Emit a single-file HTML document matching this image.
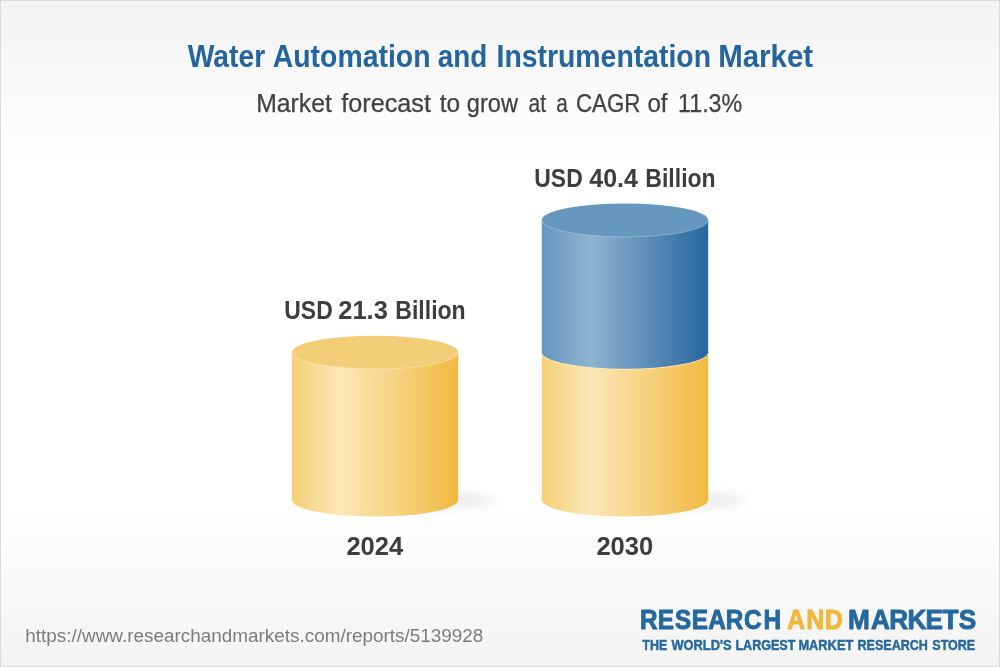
<!DOCTYPE html>
<html lang="en">
<head>
<meta charset="utf-8">
<title>Water Automation and Instrumentation Market</title>
<style>
  html, body { margin: 0; padding: 0; background: #ffffff; }
  body { width: 1000px; height: 667px; overflow: hidden; }
  svg { display: block; }
  text { font-family: "Liberation Sans", sans-serif; }
  .b { font-weight: bold; }
</style>
</head>
<body>
<svg width="1000" height="667" viewBox="0 0 1000 667">
  <defs>
    <linearGradient id="bg" x1="0" y1="0" x2="0" y2="1">
      <stop offset="0" stop-color="#f3f3f3"/>
      <stop offset="0.25" stop-color="#ffffff"/>
      <stop offset="0.752" stop-color="#ffffff"/>
      <stop offset="1" stop-color="#f3f3f3"/>
    </linearGradient>
    <linearGradient id="gy" x1="0" y1="0" x2="1" y2="0">
      <stop offset="0" stop-color="#f5cf74"/>
      <stop offset="0.295" stop-color="#fbe7b8"/>
      <stop offset="1" stop-color="#f1b941"/>
    </linearGradient>
    <linearGradient id="gb" x1="0" y1="0" x2="1" y2="0">
      <stop offset="0" stop-color="#6597c0"/>
      <stop offset="0.295" stop-color="#8fb3d1"/>
      <stop offset="1" stop-color="#26669e"/>
    </linearGradient>
    <filter id="blur" x="-30%" y="-80%" width="160%" height="260%">
      <feGaussianBlur stdDeviation="4.8"/>
    </filter>
  </defs>

  <!-- background + border -->
  <rect x="0" y="0" width="1000" height="667" fill="url(#bg)"/>
  <rect x="0.5" y="0.5" width="999" height="666" fill="none" stroke="#dadada" stroke-width="1"/>

  <!-- title -->
  <text id="title" class="b" y="66.5" font-size="30.5" fill="#24659f"><tspan x="187.70" textLength="77.50" lengthAdjust="spacingAndGlyphs">Water</tspan> <tspan x="272.75" textLength="157.75" lengthAdjust="spacingAndGlyphs">Automation</tspan> <tspan x="437.75" textLength="49.50" lengthAdjust="spacingAndGlyphs">and</tspan> <tspan x="496.50" textLength="214.50" lengthAdjust="spacingAndGlyphs">Instrumentation</tspan> <tspan x="718.20" textLength="95.00" lengthAdjust="spacingAndGlyphs">Market</tspan></text>
  <text id="sub" y="111.8" font-size="25.3" fill="#424242" stroke="#424242" stroke-width="0.25"><tspan x="256.20" textLength="75.70" lengthAdjust="spacingAndGlyphs">Market</tspan> <tspan x="341.34" textLength="89.60" lengthAdjust="spacingAndGlyphs">forecast</tspan> <tspan x="439.70" textLength="20.40" lengthAdjust="spacingAndGlyphs">to</tspan> <tspan x="466.80" textLength="51.14" lengthAdjust="spacingAndGlyphs">grow</tspan> <tspan x="528.60" textLength="17.48" lengthAdjust="spacingAndGlyphs">at</tspan> <tspan x="556.20" textLength="11.52" lengthAdjust="spacingAndGlyphs">a</tspan> <tspan x="575.90" textLength="64.58" lengthAdjust="spacingAndGlyphs">CAGR</tspan> <tspan x="647.50" textLength="20.06" lengthAdjust="spacingAndGlyphs">of</tspan> <tspan x="678.00" textLength="64.24" lengthAdjust="spacingAndGlyphs">11.3%</tspan></text>

  <!-- shadows -->
  <ellipse cx="412" cy="500" rx="83" ry="10.5" fill="#000000" opacity="0.068" filter="url(#blur)"/>
  <ellipse cx="662" cy="500" rx="83" ry="10.5" fill="#000000" opacity="0.068" filter="url(#blur)"/>

  <!-- left cylinder (2024) -->
  <path d="M291.8 352.2 L291.8 500 A83.2 16.5 0 0 0 458.2 500 L458.2 352.2 Z" fill="url(#gy)"/>
  <ellipse cx="375" cy="352.2" rx="83.2" ry="16.5" fill="#f4cd78"/>
  <path d="M292.4 352.9 A82.6 16.2 0 0 0 457.6 352.9" fill="none" stroke="#fbe6b4" stroke-width="0.7" opacity="0.85"/>

  <!-- right cylinder (2030) -->
  <path d="M541.8 352.2 L541.8 500 A83.2 16.5 0 0 0 708.2 500 L708.2 352.2 Z" fill="url(#gy)"/>
  <path d="M542.2 352.6 A82.8 16.5 0 0 0 707.8 352.6" fill="none" stroke="#fdeec9" stroke-width="1.2" opacity="0.8"/>
  <path d="M541.8 220 L541.8 352.2 A83.2 16.5 0 0 0 708.2 352.2 L708.2 220 Z" fill="url(#gb)"/>
  <ellipse cx="625" cy="220" rx="83.2" ry="16.5" fill="#6697be"/>
  <path d="M542.4 220.7 A82.6 16.2 0 0 0 707.6 220.7" fill="none" stroke="#a9c4db" stroke-width="0.7" opacity="0.85"/>

  <!-- value labels -->
  <text id="lab1" class="b" y="319" font-size="25.8" fill="#3d3d3d"><tspan x="284.30" textLength="48.40" lengthAdjust="spacingAndGlyphs">USD</tspan> <tspan x="338.30" textLength="49.50" lengthAdjust="spacingAndGlyphs">21.3</tspan> <tspan x="395.30" textLength="70.40" lengthAdjust="spacingAndGlyphs">Billion</tspan></text>
  <text id="lab2" class="b" y="187" font-size="25.8" fill="#3d3d3d"><tspan x="534.30" textLength="48.40" lengthAdjust="spacingAndGlyphs">USD</tspan> <tspan x="589.34" textLength="48.60" lengthAdjust="spacingAndGlyphs">40.4</tspan> <tspan x="645.30" textLength="70.40" lengthAdjust="spacingAndGlyphs">Billion</tspan></text>

  <!-- year labels -->
  <text class="b" x="346.4" y="555" font-size="25.5" fill="#3d3d3d" textLength="56.8" lengthAdjust="spacingAndGlyphs">2024</text>
  <text class="b" x="596.4" y="555" font-size="25.5" fill="#3d3d3d" textLength="56.8" lengthAdjust="spacingAndGlyphs">2030</text>

  <!-- footer url -->
  <text x="25.3" y="641.6" font-size="18.9" fill="#7c7c7c" textLength="458" lengthAdjust="spacingAndGlyphs">https://www.researchandmarkets.com/reports/5139928</text>

  <!-- logo -->
  <g class="b" stroke-linejoin="round">
    <text id="lg1" y="629" font-size="27.3" fill="#25689f" stroke="#25689f" stroke-width="0.9" vector-effect="non-scaling-stroke" transform="scale(0.89 1)" x="719.06 739.17 758.34 777.26 795.67 815.35 836.02 857.79">RESEARCH</text>
    <text id="lg2" y="629" font-size="27.3" fill="#f2b63a" stroke="#f2b63a" stroke-width="0.9" vector-effect="non-scaling-stroke" transform="scale(0.92 1)" x="855.38 876.24 896.43">AND</text>
    <text id="lg3" y="629" font-size="27.3" fill="#25689f" stroke="#25689f" stroke-width="0.9" vector-effect="non-scaling-stroke" transform="scale(0.96 1)" x="883.32 907.35 926.28 945.29 964.06 981.86 998.74">MARKETS</text>
    <text id="tag" y="650.3" font-size="14" fill="#25689f" stroke="#25689f" stroke-width="0.45"><tspan x="642.34" textLength="24.86" lengthAdjust="spacingAndGlyphs">THE</tspan> <tspan x="671.40" textLength="60.2" lengthAdjust="spacingAndGlyphs">WORLD'S</tspan> <tspan x="735.40" textLength="60.0" lengthAdjust="spacingAndGlyphs">LARGEST</tspan> <tspan x="798.40" textLength="54.9" lengthAdjust="spacingAndGlyphs">MARKET</tspan> <tspan x="857.50" textLength="70.4" lengthAdjust="spacingAndGlyphs">RESEARCH</tspan> <tspan x="932.34" textLength="42.86" lengthAdjust="spacingAndGlyphs">STORE</tspan></text>
  </g>
</svg>
</body>
</html>
